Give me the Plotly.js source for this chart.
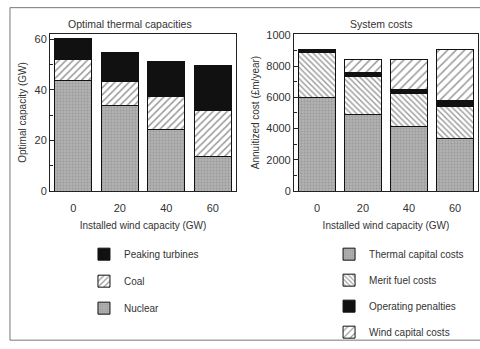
<!DOCTYPE html>
<html><head><meta charset="utf-8">
<script src="https://cdn.plot.ly/plotly-3.0.1.min.js"></script>
<style>html,body{margin:0;padding:0;background:#fff}#chart{width:480px;height:349px}</style>
</head><body><div id="chart"></div>
<script>
var windCap = ['0','20','40','60'];
// Optimal thermal capacities (GW)
var nuclear = [43.5, 33.8, 24.4, 13.7];
var coal = [8.4, 9.3, 12.9, 17.9];
var peaking = [8.4, 11.4, 13.9, 18.1];
// System costs (£m/year)
var thermalCapital = [5960, 4930, 4130, 3350];
var meritFuel = [2890, 2390, 2100, 2040];
var operatingPenalties = [200, 270, 250, 410];
var windCapital = [0, 840, 1950, 3250];
var costTickVals = [0, 2000, 4000, 6000, 8000, 10000];
var costTickText = ['0', '2000', '4000', '6000', '8000', '1000'];

var txt = '#333';
var fnt = {family: 'Liberation Sans, Arial, sans-serif', size: 10, color: txt};
var line = {color: '#111', width: 1};
var W = 0.8;

function bar(name, y, xa, ya, leg, grp, rank, marker) {
  marker.line = line;
  return {type: 'bar', name: name, x: windCap, y: y, xaxis: xa, yaxis: ya, width: W,
          legend: leg, legendgroup: grp, legendrank: rank, marker: marker, hoverinfo: 'none'};
}
function grey() {
  return {color: '#ababab', pattern: {shape: '.', fgcolor: '#999', bgcolor: '#b2b2b2', size: 3, solidity: 0.3}};
}
var traces = [
  bar('Nuclear', nuclear, 'x', 'y', 'legend', 'a', 3, grey()),
  bar('Coal', coal, 'x', 'y', 'legend', 'b', 2, {color: '#fff', pattern: {shape: '/', fgcolor: '#333', bgcolor: '#fff', size: 5, solidity: 0.3, fillmode: 'overlay'}}),
  bar('Peaking turbines', peaking, 'x', 'y', 'legend', 'c', 1, {color: '#111'}),
  bar('Thermal capital costs', thermalCapital, 'x2', 'y2', 'legend2', 'd', 1, grey()),
  bar('Merit fuel costs', meritFuel, 'x2', 'y2', 'legend2', 'e', 2, {color: '#fff', pattern: {shape: '\\', fgcolor: '#333', bgcolor: '#fff', size: 4, solidity: 0.35, fillmode: 'overlay'}}),
  bar('Operating penalties', operatingPenalties, 'x2', 'y2', 'legend2', 'f', 3, {color: '#111'}),
  bar('Wind capital costs', windCapital, 'x2', 'y2', 'legend2', 'g', 4, {color: '#fff', pattern: {shape: '/', fgcolor: '#333', bgcolor: '#fff', size: 6, solidity: 0.25, fillmode: 'overlay'}})
];

var axLine = {showline: true, linecolor: '#222', linewidth: 1, mirror: true, showgrid: false, zeroline: false};
function xax(dom, yref) {
  return Object.assign({}, axLine, {domain: dom, anchor: yref, type: 'category', range: [-0.5, 3.5],
    ticks: '', ticklabelstandoff: 7, tickfont: {family: fnt.family, size: 11, color: txt},
    title: {text: 'Installed wind capacity (GW)', font: fnt, standoff: 8}});
}
var layout = {
  width: 480, height: 349,
  margin: {l: 50, r: 2, t: 34, b: 154},
  paper_bgcolor: '#fff', plot_bgcolor: '#fff',
  barmode: 'stack', font: fnt,
  xaxis: xax([0, 0.4346], 'y'),
  xaxis2: xax([0.570, 1], 'y2'),
  yaxis: Object.assign({}, axLine, {anchor: 'x', range: [0, 62], tickvals: [0, 20, 40, 60],
    ticks: 'inside', ticklen: 5, tickcolor: '#222',
    minor: {tickvals: [10, 30, 50], ticks: 'inside', ticklen: 3, tickcolor: '#222'},
    tickfont: {family: fnt.family, size: 11, color: txt},
    title: {text: 'Optimal capacity (GW)', font: fnt, standoff: 6}}),
  yaxis2: Object.assign({}, axLine, {anchor: 'x2', range: [0, 10060], tickvals: costTickVals, ticktext: costTickText,
    ticks: 'inside', ticklen: 5, tickcolor: '#222',
    minor: {tickvals: [1000, 3000, 5000, 7000, 9000], ticks: 'inside', ticklen: 3, tickcolor: '#222'},
    tickfont: {family: fnt.family, size: 11, color: txt},
    title: {text: 'Annuitized cost (£m/year)', font: fnt, standoff: 4}}),
  legend: {x: 0.0794, y: -0.31, xanchor: 'left', yanchor: 'top', traceorder: 'grouped',
    tracegroupgap: 8, font: fnt, bgcolor: 'rgba(0,0,0,0)'},
  legend2: {x: 0.652, y: -0.31, xanchor: 'left', yanchor: 'top', traceorder: 'grouped',
    tracegroupgap: 7, font: fnt, bgcolor: 'rgba(0,0,0,0)'},
  annotations: [
    {text: 'Optimal thermal capacities', xref: 'paper', yref: 'paper', x: (130 - 50) / 428, y: (195 - 24) / 161,
      xanchor: 'center', yanchor: 'middle', showarrow: false, font: {family: fnt.family, size: 10.5, color: txt}},
    {text: 'System costs', xref: 'paper', yref: 'paper', x: (381 - 50) / 428, y: (195 - 24) / 161,
      xanchor: 'center', yanchor: 'middle', showarrow: false, font: {family: fnt.family, size: 10.5, color: txt}}
  ],
  shapes: [
    {type: 'rect', xref: 'paper', yref: 'paper', x0: -0.0935, x1: 1.1, y0: -0.95, y1: 1.1677,
      line: {color: '#777', width: 1}}
  ]
};
Plotly.newPlot('chart', traces, layout, {displayModeBar: false, staticPlot: true});
</script></body></html>
